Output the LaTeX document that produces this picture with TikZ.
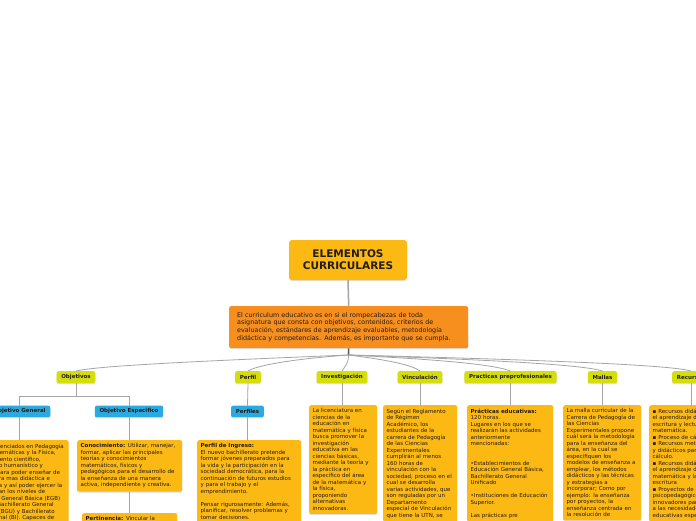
\documentclass[tikz,border=0pt]{standalone}
\usepackage{fontspec}
\setmainfont{DejaVu Sans}
\usetikzlibrary{shadows}
\definecolor{amarillo}{RGB}{253,185,19}
\definecolor{naranja}{RGB}{247,143,30}
\definecolor{lima}{RGB}{213,222,10}
\definecolor{celeste}{RGB}{41,171,226}
\definecolor{linea}{RGB}{165,165,165}
\definecolor{tinta}{RGB}{35,28,20}

\begin{document}
\begin{tikzpicture}[x=1pt,y=1pt]
\tikzstyle{every node}+=[text=tinta]
\tikzstyle{sombra}=[drop shadow={shadow xshift=0pt,shadow yshift=-1pt,opacity=0.25}]
\tikzstyle{texto}=[sombra,fill=amarillo,rounded corners=2pt,anchor=north west,align=left,inner xsep=3.5pt,inner ysep=3.5pt,font=\fontsize{5.5}{6.5}\selectfont]
\tikzstyle{categoria}=[sombra,fill=lima,rounded corners=2pt,anchor=north,minimum height=12pt,inner xsep=4.7pt,inner ysep=0pt,font=\fontsize{5.5}{6.5}\selectfont\bfseries]
\tikzstyle{subtema}=[categoria,fill=celeste,minimum height=11.5pt]
\tikzstyle{enlace}=[draw=linea,line width=0.8pt]
\clip (0,0) rectangle (696,-520);
\fill[white] (0,0) rectangle (696,-520);
\node[sombra,fill=amarillo,rounded corners=3pt,minimum width=118pt,minimum height=40pt,align=center,font=\fontsize{10.5}{12}\selectfont\bfseries] (titulo) at (348,-260) {ELEMENTOS\\CURRICULARES};
\node[texto,fill=naranja,inner xsep=8pt,inner ysep=6pt,text width=223pt,font=\fontsize{6.4}{7.9}\selectfont] (curriculo) at (229,-306) {El curriculum educativo es en si el rompecabezas de toda\\asignatura que consta con objetivos, contenidos, criterios de\\evaluación, estándares de aprendizaje evaluables, metodología\\didáctica y competencias. Además, es importante que se cumpla.};
\coordinate (hub) at (348.5,-355);
\node[categoria] (objetivos) at (76,-371) {Objetivos};
\node[categoria] (perfil) at (248,-371) {Perfil};
\node[categoria] (investigacion) at (342,-371) {Investigación};
\node[categoria] (vinculacion) at (420,-371) {Vinculación};
\node[categoria] (practicas) at (510.5,-371) {Practicas preprofesionales};
\node[categoria] (mallas) at (602.5,-371) {Mallas};
\node[categoria] (recursos) at (691,-371) {Recursos};
\node[subtema] (objgeneral) at (19.5,-405.5) {Objetivo General};
\node[subtema] (objespecifico) at (129,-405.5) {Objetivo Especifico};
\node[subtema] (perfiles) at (247.5,-405.5) {Perfiles};
\node[texto,text width=94pt] (txtgeneral) at (-32.5,-440) {Formar Licenciados en Pedagogía\\de las Matemáticas y la Física,\\y pensamiento científico,\\con criterio humanístico y\\creativo, para poder enseñar de\\una manera mas didáctica e\\innovadora y así poder ejercer la\\que abarcan los niveles de\\Educación General Básica (EGB)\\superior, Bachillerato General\\Unificado (BGU) y Bachillerato\\Internacional (BI). Capaces de};
\node[texto,text width=98pt] (txtespecifico) at (77,-440) {\textbf{Conocimiento:} Utilizar, manejar,\\formar, aplicar las principales\\teorías y conocimientos\\matemáticos, físicos y\\pedagógicos para el desarrollo de\\la enseñanza de una manera\\activa, independiente y creativa.};
\node[texto,text width=88pt] (txtpertinencia) at (82,-513) {\textbf{Pertinencia:} Vincular la};
\node[texto,text width=97pt] (txtperfil) at (197,-440) {\textbf{Perfil de Ingreso:}\\El nuevo bachillerato pretende\\formar jóvenes preparados para\\la vida y la participación en la\\sociedad democrática, para la\\continuación de futuros estudios\\y para el trabajo y el\\emprendimiento.\\~\\Pensar rigurosamente: Además,\\planificar, resolver problemas y\\tomar decisiones.};
\node[texto,text width=61pt] (txtinvestigacion) at (309,-405) {La licenciatura en\\ciencias de la\\educación en\\matemática y física\\busca promover la\\investigación\\educativa en las\\ciencias básicas,\\mediante la teoría y\\la práctica en\\específico del área\\de la matemática y\\la física,\\proponiendo\\alternativas\\innovadoras.};
\node[texto,text width=67pt] (txtvinculacion) at (383,-405) {Según el Reglamento\\de Régimen\\Académico, los\\estudiantes de la\\carrera de Pedagogía\\de las Ciencias\\Experimentales\\cumplirán al menos\\160 horas de\\vinculación con la\\sociedad, proceso en el\\cual se desarrolla\\varias actividades, que\\son reguladas por un\\Departamento\\especial de Vinculación\\que tiene la UTN, se};
\node[texto,text width=79pt] (txtpracticas) at (467,-405) {\textbf{Prácticas educativas:}\\120 horas.\\Lugares en los que se\\realizarán las actividades\\anteriormente\\mencionadas:\\~\\~\\•Establecimientos de\\Educación General Básica,\\Bachillerato General\\Unificado\\~\\•Instituciones de Educación\\Superior.\\~\\Las prácticas pre};
\node[texto,text width=71pt] (txtmallas) at (563,-405) {La malla curricular de la\\Carrera de Pedagogía de\\las Ciencias\\Experimentales propone\\cuál será la metodología\\para la enseñanza del\\área, en la cual se\\especifiquen los\\modelos de enseñanza a\\emplear, los métodos\\didácticos y las técnicas\\y estrategias a\\incorporar; Como por\\ejemplo: la enseñanza\\por proyectos, la\\enseñanza centrada en\\la resolución de};
\node[texto,text width=80pt] (txtrecursos) at (649,-405) {▪ Recursos didácticos para\\el aprendizaje de la\\escritura y lectura\\matemática.\\▪ Proceso de cálculo.\\▪ Recursos metodológicos\\y didácticos para el\\cálculo.\\▪ Recursos didácticos para\\el aprendizaje de la\\matemática y la\\escritura\\▪ Proyectos de apoyo\\psicopedagógico\\innovadores para atender\\a las necesidades\\educativas especiales.};
\draw[draw=linea,line width=1.5pt] (titulo.south) -- (curriculo.north);
\draw[draw=black!65,line width=1.6pt] (curriculo.south) -- (hub);
\draw[enlace] (hub) .. controls +(-150,-6) and +(20,5) .. (objetivos.north);
\draw[enlace] (hub) .. controls +(-55,-4) and +(10,6) .. (perfil.north);
\draw[enlace] (hub) .. controls +(0,-8) and +(4,6) .. (investigacion.north);
\draw[enlace] (hub) .. controls +(40,-5) and +(-8,6) .. (vinculacion.north);
\draw[enlace] (hub) .. controls +(100,-5) and +(-15,6) .. (practicas.north);
\draw[enlace] (hub) .. controls +(150,-5) and +(-18,6) .. (mallas.north);
\draw[enlace] (hub) .. controls +(200,-5) and +(-20,6) .. (recursos.north);
\draw[enlace] (objetivos.south) -- ++(0,-13) coordinate (fork);
\draw[enlace] (fork) -| (objgeneral.north);
\draw[enlace] (fork) -| (objespecifico.north);
\draw[enlace] (objgeneral.south) -- (objgeneral.south |- txtgeneral.north);
\draw[enlace] (objespecifico.south) -- (objespecifico.south |- txtespecifico.north);
\draw[enlace] (txtespecifico.south) -- (txtespecifico.south |- txtpertinencia.north);
\draw[enlace] (perfil.south) -- (perfiles.north);
\draw[enlace] (perfiles.south) -- (perfiles.south |- txtperfil.north);
\draw[enlace] (investigacion.south) -- (investigacion.south |- txtinvestigacion.north);
\draw[enlace] (vinculacion.south) -- (vinculacion.south |- txtvinculacion.north);
\draw[enlace] (practicas.south) -- (practicas.south |- txtpracticas.north);
\draw[enlace] (mallas.south) -- (mallas.south |- txtmallas.north);
\draw[enlace] (recursos.south) -- (recursos.south |- txtrecursos.north);
\end{tikzpicture}
\end{document}
